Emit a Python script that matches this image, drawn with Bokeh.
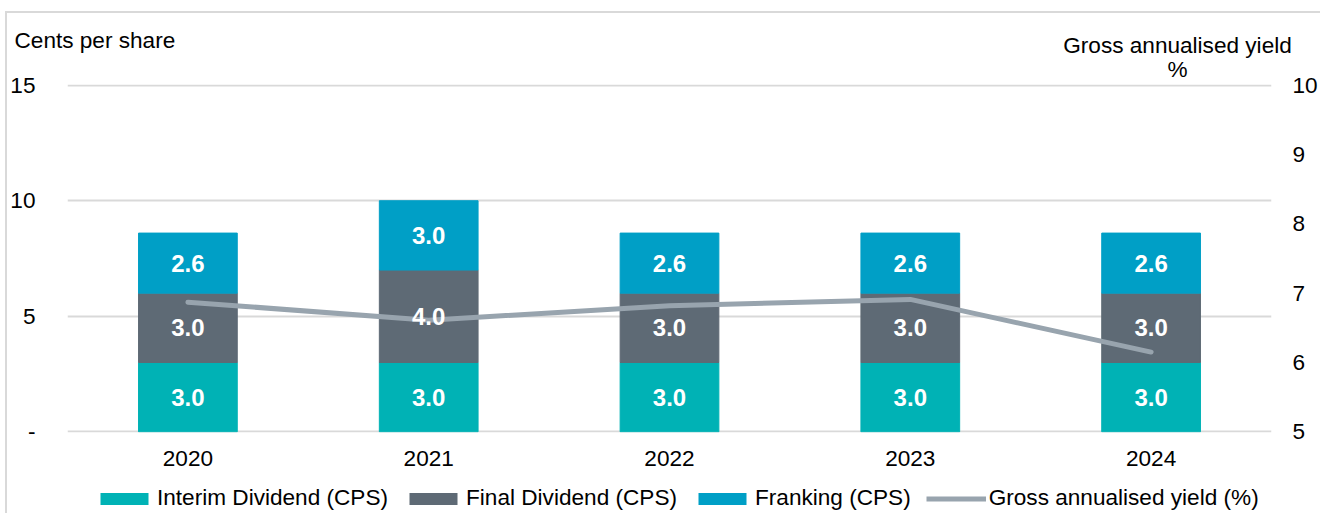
from bokeh.plotting import figure
from bokeh.models import (Range1d, LinearAxis, FixedTicker, ColumnDataSource, LabelSet,
                          Label, Legend, LegendItem)
from bokeh.core.properties import value
from bokeh.embed import file_html
from bokeh.resources import INLINE

years = ["2020", "2021", "2022", "2023", "2024"]
interim = [3.0, 3.0, 3.0, 3.0, 3.0]
final = [3.0, 4.0, 3.0, 3.0, 3.0]
franking = [2.6, 3.0, 2.6, 2.6, 2.6]
gross_yield = [6.87, 6.61, 6.82, 6.91, 6.15]
left_ticks = [0, 5, 10, 15]
right_ticks = [5, 6, 7, 8, 9, 10]
series_names = ["Interim Dividend (CPS)", "Final Dividend (CPS)", "Franking (CPS)",
                "Gross annualised yield (%)"]

FONT = "Liberation Sans"
FS = "22.6px"
C_INT = "#00B2B5"
C_FIN = "#5E6A75"
C_FRK = "#009FC6"
C_LINE = "#98A4AE"
GRID = "#D9D9D9"

W, H1, H2 = 1320, 478, 35

# ---------------- main chart ----------------
p = figure(x_range=years, y_range=Range1d(-0.03, 15.03), width=W, height=H1,
           output_backend="svg", toolbar_location=None,
           min_border_left=67, min_border_right=39, min_border_top=84, min_border_bottom=46)
p.styles = {"position": "absolute", "left": "0px", "top": "0px",
            "background-color": "white",
            "box-shadow": "inset 5px 11px 0 0 white, inset 7px 13px 0 0 #D9D9D9"}
p.outline_line_color = None
p.background_fill_color = None
p.border_fill_color = None

p.extra_y_ranges = {"yield": Range1d(4.99, 10.01)}

src = ColumnDataSource(dict(year=years, interim=interim, final=final, franking=franking))
bars = p.vbar_stack(["interim", "final", "franking"], x="year", width=0.41,
                    color=[C_INT, C_FIN, C_FRK], source=src)

ln = p.line(years, gross_yield, y_range_name="yield", line_width=5, line_color=C_LINE,
            line_cap="round", line_join="round")

# value labels
lx, ly, lt = [], [], []
for i, yr in enumerate(years):
    a, b, c = interim[i], final[i], franking[i]
    for base, v in ((0, a), (a, b), (a + b, c)):
        lx.append(yr)
        ly.append(base + v / 2)
        lt.append(f"{v:.1f}")
lab_src = ColumnDataSource(dict(x=lx, y=ly, t=lt))
p.add_layout(LabelSet(x="x", y="y", text="t", source=lab_src, text_align="center",
                      text_baseline="middle", text_color="white", text_font=value(FONT),
                      text_font_size="24px", text_font_style="bold"))

# axes
p.xgrid.grid_line_color = None
p.ygrid.ticker = FixedTicker(ticks=left_ticks)
p.ygrid.grid_line_color = GRID
p.ygrid.grid_line_width = 2

for ax in (p.xaxis[0], p.yaxis[0]):
    ax.axis_line_color = None
    ax.major_tick_line_color = None
    ax.minor_tick_line_color = None
    ax.major_label_text_font = FONT
    ax.major_label_text_font_size = FS
    ax.major_label_text_color = "black"

p.yaxis[0].ticker = FixedTicker(ticks=left_ticks)
p.yaxis[0].major_label_overrides = {0: "-"}
p.yaxis[0].major_label_standoff = 26
p.xaxis[0].major_label_standoff = 12

rax = LinearAxis(y_range_name="yield", ticker=FixedTicker(ticks=right_ticks))
rax.axis_line_color = None
rax.major_tick_line_color = None
rax.minor_tick_line_color = None
rax.major_label_text_font = FONT
rax.major_label_text_font_size = FS
rax.major_label_text_color = "black"
rax.major_label_standoff = 15
p.add_layout(rax, "right")

# titles (in the top side panels so they are not clipped to the frame)
p.add_layout(Label(x=1110, y=15, x_units="screen", y_units="screen", text="%",
                   text_font=FONT, text_font_size=FS, text_baseline="middle",
                   text_align="center", text_color="black"), "above")
p.add_layout(Label(x=1110, y=14, x_units="screen", y_units="screen",
                   text="Gross annualised yield", text_font=FONT, text_font_size=FS,
                   text_baseline="middle", text_align="center", text_color="black"), "above")
p.add_layout(Label(x=-53, y=-6, x_units="screen", y_units="screen", text="Cents per share",
                   text_font=FONT, text_font_size=FS, text_baseline="middle",
                   text_color="black"), "above")

# ---------------- legend strip ----------------
q = figure(width=W, height=H2, x_range=Range1d(0, 1), y_range=Range1d(0, 1),
           output_backend="svg", toolbar_location=None,
           x_axis_type=None, y_axis_type=None,
           min_border_left=0, min_border_right=0, min_border_top=0, min_border_bottom=0)
q.styles = {"position": "absolute", "left": "0px", "top": f"{H1}px",
            "background-color": "white",
            "box-shadow": "inset 5px 0 0 0 white, inset 7px 0 0 0 #D9D9D9"}
q.outline_line_color = None
q.background_fill_color = None
q.border_fill_color = None
q.xgrid.visible = False
q.ygrid.visible = False

# legend key stand-ins: zero-height bars and a one-point line draw nothing in the strip
k0 = q.vbar(x=[0.5], top=[0], bottom=[0], width=0.1, fill_color=C_INT, line_color=None)
k1 = q.vbar(x=[0.5], top=[0], bottom=[0], width=0.1, fill_color=C_FIN, line_color=None)
k2 = q.vbar(x=[0.5], top=[0], bottom=[0], width=0.1, fill_color=C_FRK, line_color=None)
k3 = q.line(x=[0.5], y=[0.5], line_width=5, line_color=C_LINE, line_cap="butt")

items = [LegendItem(label=series_names[0], renderers=[k0]),
         LegendItem(label=series_names[1], renderers=[k1]),
         LegendItem(label=series_names[2], renderers=[k2]),
         LegendItem(label=series_names[3], renderers=[k3])]
leg = Legend(items=items, orientation="horizontal", location=(94, 2),
             glyph_width=60, glyph_height=15, label_standoff=3, spacing=15,
             padding=0, margin=0, border_line_color=None, background_fill_alpha=0,
             label_text_font=FONT, label_text_font_size=FS, label_text_color="black")
q.add_layout(leg, "center")

open("out.html", "w").write(file_html([p, q], INLINE))
